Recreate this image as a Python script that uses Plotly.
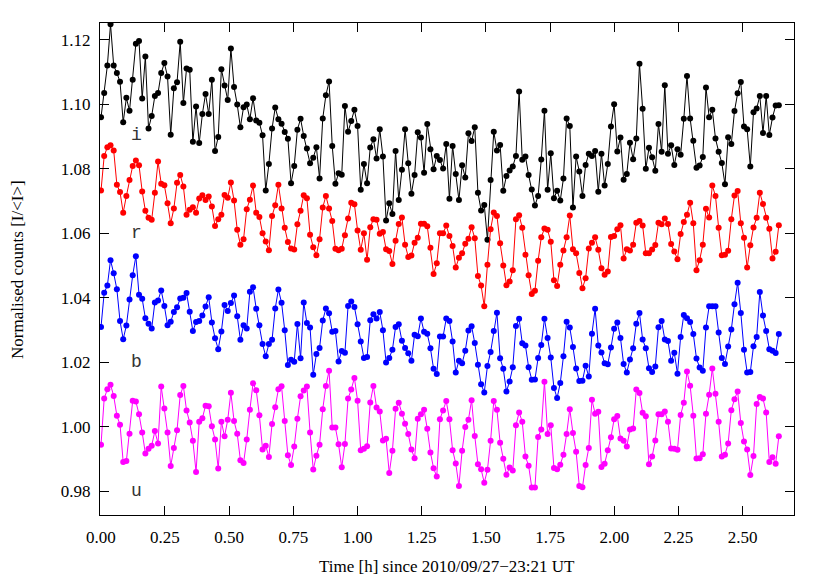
import numpy as np
import plotly.graph_objects as go

# sampling of the light curves (hours since 2010/09/27-23:21 UT)
TIME_START_H = 0.001
CADENCE_H = 0.012336

i_band = [
    1.096, 1.1035, 1.112, 1.1248, 1.112, 1.1097, 1.107, 1.0944, 1.102, 1.098, 1.1076, 1.1188, 1.1196, 1.1018, 1.1148, 1.0925, 1.0964, 1.1026, 1.1035, 1.1097, 1.1128, 1.1086, 1.0906, 1.105, 1.1068, 1.1194, 1.1004, 1.1111, 1.1107, 1.0884, 1.0993, 1.088, 1.097, 1.1032, 1.097, 1.1076, 1.0855,
    1.0899, 1.1109, 1.1058, 1.1013, 1.1173, 1.1054, 1.0999, 1.0929, 1.0991, 1.0999, 1.0954, 1.1019, 1.095, 1.0943, 1.0904, 1.0733, 1.0815, 1.0925, 1.099, 1.0954, 1.094, 1.0914, 1.0893, 1.0755, 1.0809, 1.0921, 1.0955, 1.0902, 1.0863, 1.0817, 1.0834, 1.0867, 1.077, 1.0956, 1.1028, 1.1071, 1.0871,
    1.0754, 1.0786, 1.0782, 1.0995, 1.0915, 1.0948, 1.0983, 1.0933, 1.0735, 1.0815, 1.0755, 1.0866, 1.0892, 1.0832, 1.0923, 1.0838, 1.064, 1.0693, 1.066, 1.0855, 1.0703, 1.0797, 1.0923, 1.0817, 1.0723, 1.0781, 1.0913, 1.0897, 1.0788, 1.0939, 1.0861, 1.0799, 1.084, 1.0827, 1.0801, 1.0877, 1.0707,
    1.0871, 1.0784, 1.0703, 1.0811, 1.0773, 1.091, 1.0886, 1.0929, 1.0726, 1.0671, 1.0688, 1.058, 1.0765, 1.0915, 1.0857, 1.0874, 1.0732, 1.0778, 1.0795, 1.0807, 1.084, 1.104, 1.0828, 1.0838, 1.0781, 1.0736, 1.0686, 1.0716, 1.0829, 1.098, 1.0735, 1.0848, 1.0709, 1.0732, 1.0702, 1.077, 1.0956, 1.0933,
    1.068, 1.0838, 1.0792, 1.0716, 1.0812, 1.0847, 1.084, 1.0855, 1.0729, 1.0847, 1.0748, 1.0815, 1.0931, 1.1, 1.0854, 1.0897, 1.0766, 1.0784, 1.0881, 1.083, 1.0894, 1.1126, 1.0986, 1.08, 1.0865, 1.0836, 1.0794, 1.0939, 1.0853, 1.1059, 1.0847, 1.0873, 1.0812, 1.0861, 1.0844, 1.0955, 1.1088,
    1.0956, 1.0887, 1.0803, 1.081, 1.0837, 1.1052, 1.096, 1.0983, 1.0894, 1.0853, 1.0818, 1.0752, 1.0898, 1.0877, 1.0979, 1.1034, 1.1069, 1.0931, 1.0923, 1.0807, 1.0975, 1.0987, 1.1026, 1.0911, 1.1026, 1.0905, 1.0959, 1.0996, 1.0997,
]

r_band = [
    1.0733, 1.084, 1.0867, 1.0873, 1.0857, 1.0751, 1.0728, 1.0664, 1.0716, 1.0765, 1.0809, 1.0826, 1.0811, 1.073, 1.067, 1.0648, 1.0642, 1.0726, 1.0823, 1.0754, 1.0749, 1.0693, 1.0631, 1.0677, 1.0757, 1.0781, 1.0745, 1.0658, 1.0673, 1.0681, 1.0664, 1.0708, 1.0718, 1.0703, 1.0714, 1.0683, 1.0623,
    1.0644, 1.0658, 1.0719, 1.071, 1.0758, 1.0702, 1.0611, 1.0565, 1.0582, 1.0675, 1.0704, 1.0748, 1.0664, 1.0651, 1.06, 1.0575, 1.0548, 1.0654, 1.0687, 1.0751, 1.0677, 1.0617, 1.0573, 1.0553, 1.055, 1.0628, 1.067, 1.0718, 1.0709, 1.0596, 1.0557, 1.0532, 1.0582, 1.068, 1.0716, 1.0677, 1.0638,
    1.0552, 1.0548, 1.0552, 1.0594, 1.0646, 1.0695, 1.069, 1.0609, 1.0549, 1.06, 1.0518, 1.0619, 1.0644, 1.0642, 1.0599, 1.0604, 1.0551, 1.0545, 1.0505, 1.0577, 1.0629, 1.0649, 1.0565, 1.0527, 1.0531, 1.0571, 1.0586, 1.063, 1.063, 1.0622, 1.0555, 1.0474, 1.0507, 1.06, 1.06, 1.0624, 1.0592,
    1.0561, 1.0494, 1.0524, 1.0538, 1.0568, 1.0583, 1.0619, 1.0585, 1.0468, 1.0438, 1.0374, 1.0503, 1.0613, 1.0665, 1.0654, 1.0569, 1.05, 1.0439, 1.0451, 1.0486, 1.0644, 1.0656, 1.0617, 1.0534, 1.047, 1.0412, 1.0422, 1.0515, 1.0588, 1.0615, 1.0611, 1.0574, 1.0455, 1.0437, 1.0503, 1.0547, 1.0588, 1.0655,
    1.0551, 1.0538, 1.0477, 1.043, 1.0461, 1.0553, 1.0571, 1.0588, 1.0549, 1.0492, 1.0472, 1.0482, 1.0589, 1.0592, 1.0613, 1.0625, 1.0522, 1.0551, 1.0547, 1.0565, 1.0633, 1.0638, 1.0624, 1.0538, 1.0538, 1.055, 1.0564, 1.0633, 1.0628, 1.0646, 1.0629, 1.0567, 1.0544, 1.052, 1.0598, 1.0635, 1.0658,
    1.0695, 1.0631, 1.0486, 1.0517, 1.0565, 1.0676, 1.0649, 1.0748, 1.0716, 1.0617, 1.0532, 1.0534, 1.0546, 1.0644, 1.0717, 1.0731, 1.0631, 1.0586, 1.0494, 1.0563, 1.0618, 1.0648, 1.0726, 1.0691, 1.0648, 1.0614, 1.0522, 1.0543, 1.0625,
]

b_band = [
    1.031, 1.0416, 1.0438, 1.0517, 1.0476, 1.0427, 1.0328, 1.0272, 1.0314, 1.0395, 1.047, 1.0529, 1.041, 1.0397, 1.0337, 1.032, 1.0305, 1.0386, 1.0392, 1.0423, 1.0375, 1.0315, 1.0326, 1.0356, 1.0371, 1.0398, 1.04, 1.0415, 1.0357, 1.0297, 1.0325, 1.0328, 1.0345, 1.0373, 1.0402, 1.0324, 1.0275,
    1.0241, 1.0296, 1.0378, 1.0359, 1.0384, 1.0407, 1.0343, 1.027, 1.0315, 1.0305, 1.0419, 1.0433, 1.0366, 1.0315, 1.0257, 1.0219, 1.0257, 1.027, 1.0367, 1.0426, 1.0385, 1.03, 1.0192, 1.0208, 1.0202, 1.0319, 1.0213, 1.0386, 1.0322, 1.0308, 1.0162, 1.0226, 1.0245, 1.033, 1.0367, 1.0352, 1.0295,
    1.0297, 1.0203, 1.0235, 1.023, 1.0375, 1.0389, 1.0372, 1.0318, 1.0265, 1.0214, 1.0217, 1.0331, 1.0349, 1.0336, 1.0356, 1.03, 1.02, 1.0214, 1.0239, 1.031, 1.0318, 1.0267, 1.0245, 1.0228, 1.0205, 1.0286, 1.0281, 1.0336, 1.0295, 1.0289, 1.0244, 1.018, 1.0164, 1.028, 1.028, 1.0336, 1.0328,
    1.0265, 1.0169, 1.0205, 1.0197, 1.0236, 1.0299, 1.0312, 1.026, 1.0193, 1.0132, 1.0107, 1.0189, 1.0232, 1.0297, 1.0354, 1.0213, 1.018, 1.011, 1.0141, 1.0185, 1.0313, 1.0335, 1.0259, 1.0252, 1.0185, 1.0146, 1.0147, 1.0214, 1.0254, 1.0335, 1.0276, 1.0215, 1.0121, 1.009, 1.0136, 1.0219, 1.0326, 1.0308,
    1.0248, 1.0181, 1.0142, 1.0143, 1.019, 1.0156, 1.0289, 1.0366, 1.0252, 1.0231, 1.0197, 1.0194, 1.0246, 1.0304, 1.0324, 1.0276, 1.0195, 1.0169, 1.0209, 1.0244, 1.032, 1.0353, 1.0271, 1.0244, 1.0182, 1.017, 1.0187, 1.0309, 1.0328, 1.0271, 1.0266, 1.0205, 1.023, 1.0165, 1.0279, 1.0347, 1.0337,
    1.0325, 1.0288, 1.0212, 1.0184, 1.0174, 1.0308, 1.0374, 1.0374, 1.0374, 1.0293, 1.0214, 1.0195, 1.0249, 1.0302, 1.038, 1.0447, 1.0353, 1.0239, 1.0169, 1.017, 1.025, 1.0279, 1.0418, 1.0345, 1.0297, 1.0241, 1.0236, 1.0229, 1.0288,
]

u_band = [
    0.9945, 1.0088, 1.0117, 1.0131, 1.0096, 1.0035, 1.0007, 0.9891, 0.9894, 0.9979, 1.0081, 1.0079, 1.0039, 0.9983, 0.9918, 0.9932, 0.9942, 0.9987, 0.9949, 1.0125, 1.0057, 0.9983, 0.9879, 0.9935, 0.999, 1.0099, 1.0127, 1.0051, 1.0014, 0.9957, 0.986, 1.0016, 1.0027, 1.0066, 1.0064, 1.0002, 0.9961,
    0.9871, 1.0016, 0.9971, 1.0022, 1.0106, 1.0018, 0.9979, 0.9897, 0.9888, 0.9961, 1.0053, 1.0135, 1.0114, 1.0036, 0.993, 0.9942, 0.9907, 1.0009, 1.0061, 1.0117, 1.0126, 1.0018, 0.9912, 0.9882, 0.9939, 1.0025, 1.0095, 1.0113, 1.0125, 0.9983, 0.9868, 0.9911, 0.9945, 1.0055, 1.0127, 1.0174, 0.9998,
    0.9998, 0.9946, 0.9875, 0.9947, 1.0088, 1.0116, 1.0152, 1.0081, 0.9928, 0.9932, 0.994, 1.0076, 1.0127, 1.006, 1.0048, 0.9958, 0.9963, 0.9857, 0.9926, 1.0056, 1.0075, 1.0041, 1.001, 0.9978, 0.993, 0.9903, 1.0025, 1.0039, 1.0053, 0.9994, 0.9921, 0.9872, 0.9846, 1.0024, 1.0051, 1.008, 1.0024,
    0.9928, 0.9887, 0.9817, 0.9926, 1.0, 1.0022, 1.0083, 0.9972, 0.9884, 0.9869, 0.9827, 0.9867, 0.9957, 1.008, 1.0053, 0.9951, 0.9901, 0.9852, 0.9874, 0.9865, 1.0005, 1.0045, 1.0016, 0.9908, 0.988, 0.9812, 0.9812, 0.9969, 0.9992, 1.014, 0.9978, 1.0005, 0.9873, 0.9869, 0.9883, 0.9914, 0.9978, 1.0055,
    0.9981, 0.9923, 0.9817, 0.9813, 0.9882, 0.9935, 1.0084, 1.0041, 1.0047, 0.9876, 0.9886, 0.9928, 0.9968, 1.0024, 1.0034, 0.9964, 0.9957, 0.9939, 0.9992, 0.9995, 1.0116, 1.0105, 1.0044, 1.0033, 0.9884, 0.9908, 0.9958, 1.0039, 1.0039, 1.0048, 1.0016, 0.9933, 0.9932, 0.9929, 1.0037, 1.0075, 1.0172,
    1.0128, 1.0035, 0.9902, 0.9903, 0.9915, 1.0041, 1.01, 1.0181, 1.0103, 1.0016, 0.9908, 0.9914, 0.9949, 1.0052, 1.0086, 1.011, 1.0012, 0.9955, 0.993, 0.9851, 0.991, 1.0071, 1.0093, 1.0088, 1.0045, 0.9891, 0.9906, 0.9886, 0.9971,
]

band_names = ["i", "r", "b", "u"]
band_colors = ["#000000", "#ff0000", "#0000ff", "#ff00ff"]
band_series = [i_band, r_band, b_band, u_band]
band_label_pos = [(0.138, 1.0905), (0.138, 1.0600), (0.138, 1.0202), (0.138, 0.9800)]

x_ticks = [0.00, 0.25, 0.50, 0.75, 1.00, 1.25, 1.50, 1.75, 2.00, 2.25, 2.50]
y_ticks = [0.98, 1.00, 1.02, 1.04, 1.06, 1.08, 1.10, 1.12]

SERIF = "Liberation Serif, Times New Roman, serif"
MONO = "Liberation Mono, Courier New, monospace"

fig = go.Figure()
for name, color, vals in zip(band_names, band_colors, band_series):
    t = TIME_START_H + CADENCE_H * np.arange(len(vals))
    fig.add_trace(go.Scatter(
        x=t, y=vals, mode="lines+markers", name=name,
        line=dict(color=color, width=1),
        marker=dict(color=color, size=6, line=dict(width=0)),
        showlegend=False, cliponaxis=True, hoverinfo="skip",
    ))

for name, (lx, ly) in zip(band_names, band_label_pos):
    fig.add_annotation(x=lx, y=ly, xref="x", yref="y", text=name, showarrow=False,
                       font=dict(family=MONO, size=18, color="#333333"))

fig.add_annotation(x=-0.1196, y=0.5, xref="paper", yref="paper", textangle=-90,
                   xanchor="center", yanchor="middle",
                   text="Normalised counts [I/&lt;I&gt;]", showarrow=False,
                   font=dict(family=SERIF, size=17, color="black"))
fig.add_annotation(x=0.5, y=-0.1037, xref="paper", yref="paper",
                   xanchor="center", yanchor="middle",
                   text="Time [h] since 2010/09/27\u221223:21 UT", showarrow=False,
                   font=dict(family=SERIF, size=17, color="black"))

axis_common = dict(showgrid=False, zeroline=False, showline=True, linecolor="black",
                   linewidth=1.3, mirror="allticks", ticks="inside", ticklen=9,
                   tickwidth=1, tickcolor="black", automargin=False,
                   tickfont=dict(family=SERIF, size=17, color="black"))

fig.update_xaxes(range=[-0.003, 2.70], tickvals=x_ticks, ticklabelstandoff=6,
                 ticktext=[f"{v:.2f}" for v in x_ticks], **axis_common)
fig.update_yaxes(range=[0.9727, 1.1252], tickvals=y_ticks, ticklabelstandoff=5,
                 ticktext=[f"{v:.2f}" for v in y_ticks], **axis_common)

fig.update_layout(
    width=830, height=581,
    margin=dict(l=100, r=36, t=23, b=66),
    paper_bgcolor="white", plot_bgcolor="white",
    font=dict(family=SERIF, color="black"),
    hovermode=False,
)

fig.write_html("out.html", config={"displayModeBar": False},
               post_script="document.body.style.margin='0px';document.body.style.overflow='hidden';")
